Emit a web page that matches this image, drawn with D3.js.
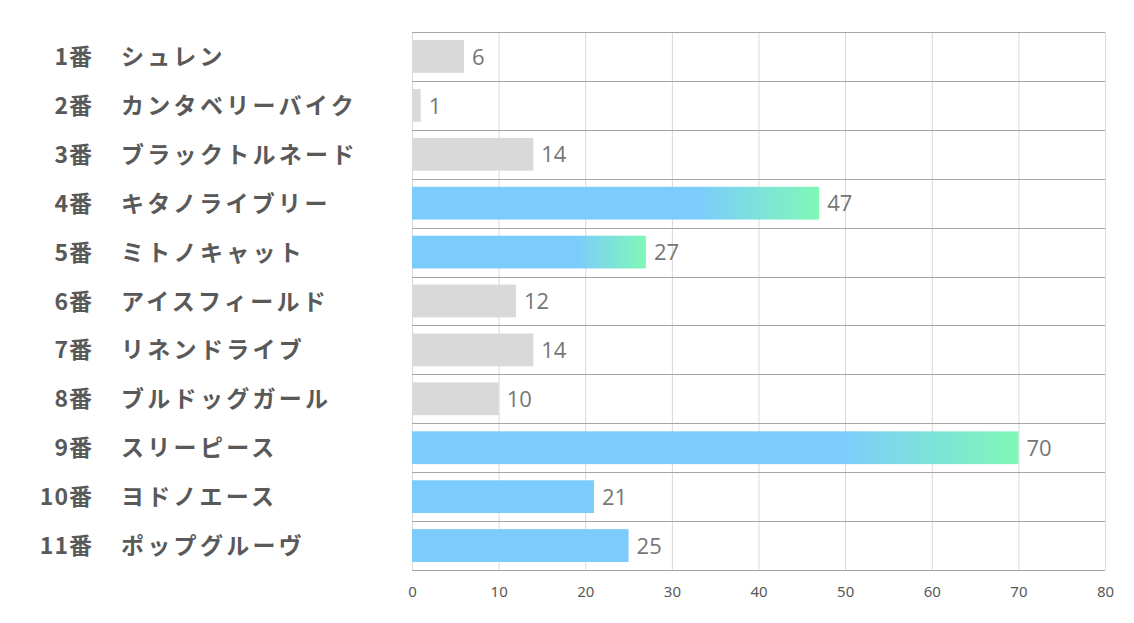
<!DOCTYPE html>
<html><head><meta charset="utf-8">
<script src="https://cdn.jsdelivr.net/npm/d3@7"></script>
<style>body{margin:0;background:#fff}</style>
</head><body><svg id="c" width="1134" height="623"></svg>
<script>
const numbers = ["1番","2番","3番","4番","5番","6番","7番","8番","9番","10番","11番"];
const names = ["シュレン","カンタベリーバイク","ブラックトルネード","キタノライブリー","ミトノキャット","アイスフィールド","リネンドライブ","ブルドッグガール","スリーピース","ヨドノエース","ポップグルーヴ"];
const values = [6,1,14,47,27,12,14,10,70,21,25];
const styles = ["gray","gray","gray","grad","grad","gray","gray","gray","grad","blue","blue"];
const xTicks = [0,10,20,30,40,50,60,70,80];

const svg = d3.select("#c");
const x = d3.scaleLinear().domain([0,80]).range([412,1105]);
const y = d3.scaleBand().domain(d3.range(values.length)).range([32,570]).paddingInner(0.33).paddingOuter(0.165);

const defs = svg.append("defs");
const g = defs.append("linearGradient").attr("id","gr").attr("x1","0").attr("x2","1").attr("y1","0").attr("y2","0");
g.append("stop").attr("offset","0").attr("stop-color","#7CCBFD");
g.append("stop").attr("offset","0.7").attr("stop-color","#7CCBFD");
g.append("stop").attr("offset","1").attr("stop-color","#7FF8B7");

// vertical grid
svg.append("g").selectAll("line").data(xTicks).join("line")
  .attr("x1",d=>x(d)+0.5).attr("x2",d=>x(d)+0.5).attr("y1",32).attr("y2",570)
  .attr("stroke","#d9d9d9").attr("stroke-width",1);
// horizontal row lines
const bounds = d3.range(values.length+1).map(i=> i<values.length ? y(i)-y.step()*y.paddingInner()/2 : y(values.length-1)+y.bandwidth()+y.step()*y.paddingInner()/2);
svg.append("g").selectAll("line").data(bounds).join("line")
  .attr("x1",412).attr("x2",1105).attr("y1",d=>Math.round(d)+0.5).attr("y2",d=>Math.round(d)+0.5)
  .attr("stroke","#a6a6a6").attr("stroke-width",1);

// bars
const fill = s => s==="gray" ? "#d9d9d9" : s==="blue" ? "#7CCBFD" : "url(#gr)";
svg.append("g").selectAll("rect").data(values).join("rect")
  .attr("x",x(0)).attr("y",(d,i)=>y(i)).attr("width",d=>x(d)-x(0)).attr("height",y.bandwidth())
  .attr("fill",(d,i)=>fill(styles[i]));

// value labels
svg.append("g").selectAll("text").data(values).join("text")
  .attr("x",d=>x(d)+8).attr("y",(d,i)=>y(i)+y.bandwidth()/2).attr("dy","0.37em")
  .attr("font-family","'Open Sans','Noto Sans',sans-serif").attr("font-size",22).attr("fill","#767676")
  .text(d=>d);

// category labels
const lab = svg.append("g").attr("font-family","'Noto Sans CJK JP',sans-serif").attr("font-weight","bold").attr("fill","#595959");
lab.selectAll("text.n").data(numbers).join("text").attr("class","n")
  .attr("x",93).attr("y",(d,i)=>y(i)+y.bandwidth()/2).attr("dy","0.37em").attr("text-anchor","end")
  .attr("font-size",23).attr("letter-spacing","1px").text(d=>d);
lab.selectAll("text.m").data(names).join("text").attr("class","m")
  .attr("x",121).attr("y",(d,i)=>y(i)+y.bandwidth()/2).attr("dy","0.37em")
  .attr("font-size",23).attr("letter-spacing","3.3px").text(d=>d);

// x axis
const ax = svg.append("g").attr("transform","translate(0,570)")
  .call(d3.axisBottom(x).tickValues(xTicks).tickSize(0).tickPadding(16).tickFormat(d3.format("d")));
ax.select(".domain").remove();
ax.selectAll("text").attr("font-family","'Liberation Sans Narrow','Noto Sans',sans-serif").attr("font-size",15).attr("fill","#595959");
</script></body></html>
